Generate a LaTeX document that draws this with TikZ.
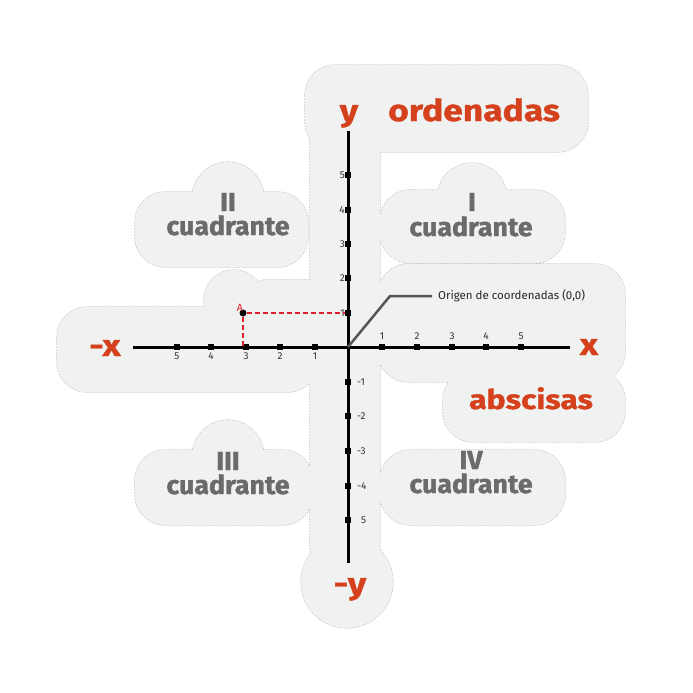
\documentclass[tikz,border=0pt]{standalone}
\usepackage{fontspec}
\setmainfont{Fira Sans}
\newfontfamily\rotulo[FakeStretch=1.18, BoldFeatures={FakeBold=1.2}]{Fira Sans}
\newfontfamily\gruesa[FakeStretch=1.03, BoldFeatures={FakeBold=1.4}]{Fira Sans}
\usetikzlibrary{positioning}

\definecolor{rojizo}{HTML}{D5411C}
\definecolor{grisletra}{HTML}{6B6B6B}
\definecolor{fondo}{HTML}{F0F1F1}
\definecolor{borde}{HTML}{C4C4C4}
\definecolor{guia}{HTML}{555555}
\definecolor{puntos}{HTML}{E41E26}

\tikzset{
  marca/.style={rectangle, fill=black, inner sep=0pt, minimum size=5.5pt},
  num/.style={inner sep=0pt, text=black!80, font=\fontsize{10}{10}\selectfont},
  eje/.style={line width=3pt},
  rojo/.style={inner sep=0pt, text=rojizo, font=\rotulo\bfseries\fontsize{30}{30}\selectfont},
  cuad/.style={inner sep=0pt, text=grisletra, font=\gruesa\bfseries\fontsize{26}{26}\selectfont},
}

% contorno de las manchas del fondo
\newcommand{\manchas}{
  (310,68) rectangle (380,575)
  (305,65) rectangle (588,152)
  (347,582) circle[radius=46pt]
  (57,307) rectangle (318,392)
  (378,264) rectangle (625,382)
  (443,370) rectangle (625,442)
  (380,450) rectangle (565,525)
  (380,190) rectangle (565,263)
  (472,198) circle[radius=35pt]
  (135,192) rectangle (308,267)
  (228,198) circle[radius=36pt]
  (135,450) rectangle (313,525)
  (228,456) circle[radius=36pt]
  (234,300) circle[radius=30pt]
  [rounded corners=10pt] (255,280) rectangle (318,320)
}

\begin{document}
\begin{tikzpicture}[x=1pt, y=-1pt]
\useasboundingbox (0,0) rectangle (693,693);

\draw [borde, dashed, dash pattern=on 2pt off 1pt, line width=1.2pt, rounded corners=30pt] \manchas;
\fill [fondo, rounded corners=30pt] \manchas;

% ejes
\coordinate (o) at (348,347);
\coordinate (xizq) at (133,347);
\coordinate (xder) at (570,347);
\coordinate (yarr) at (348,131);
\coordinate (yaba) at (348,563);

\draw [eje] (xizq) -- (xder);
\draw [eje] (yarr) -- (yaba);

% marcas en x
\draw (382,347) node (xp1) [marca] {};
\draw (xp1) node [num, above=7pt] {1};
\draw (417,347) node (xp2) [marca] {};
\draw (xp2) node [num, above=7pt] {2};
\draw (452,347) node (xp3) [marca] {};
\draw (xp3) node [num, above=7pt] {3};
\draw (486,347) node (xp4) [marca] {};
\draw (xp4) node [num, above=7pt] {4};
\draw (521,347) node (xp5) [marca] {};
\draw (xp5) node [num, above=7pt] {5};

\draw (315,347) node (xn1) [marca] {};
\draw (xn1) node [num, below=6pt] {1};
\draw (280,347) node (xn2) [marca] {};
\draw (xn2) node [num, below=6pt] {2};
\draw (246,347) node (xn3) [marca] {};
\draw (xn3) node [num, below=6pt] {3};
\draw (211,347) node (xn4) [marca] {};
\draw (xn4) node [num, below=6pt] {4};
\draw (177,347) node (xn5) [marca] {};
\draw (xn5) node [num, below=6pt] {5};

% marcas en y
\draw (348,313) node (yp1) [marca] {};
\draw (yp1) node [num, left=3pt] {1};
\draw (348,278) node (yp2) [marca] {};
\draw (yp2) node [num, left=3pt] {2};
\draw (348,244) node (yp3) [marca] {};
\draw (yp3) node [num, left=3pt] {3};
\draw (348,210) node (yp4) [marca] {};
\draw (yp4) node [num, left=3pt] {4};
\draw (348,175) node (yp5) [marca] {};
\draw (yp5) node [num, left=3pt] {5};

\draw (348,382) node (yn1) [marca] {};
\draw (yn1) node [num, right=9pt] {-1};
\draw (348,416) node (yn2) [marca] {};
\draw (yn2) node [num, right=9pt] {-2};
\draw (348,451) node (yn3) [marca] {};
\draw (yn3) node [num, right=9pt] {-3};
\draw (348,486) node (yn4) [marca] {};
\draw (yn4) node [num, right=9pt] {-4};
\draw (348,520) node (yn5) [marca] {};
\draw (yn5) node [num, right=13pt] {5};

% punto A
\draw (243,313) node (pa) [circle, fill=black, inner sep=0pt, minimum size=7pt] {};
\draw (pa) node [above left=1pt and 0pt, inner sep=0pt, text=puntos, font=\fontsize{10.5}{10.5}\selectfont] {A};
\draw [puntos, line width=1.3pt, dash pattern=on 5pt off 3pt] (pa) -- (yp1);
\draw [puntos, line width=1.3pt, dash pattern=on 5pt off 3pt] (pa) -- (pa |- o);

% origen
\coordinate (codo) at (390,296);
\draw (432,296) node (origen) [anchor=west, inner sep=6pt, font=\fontsize{11.5}{11.5}\selectfont, text=black!85] {Origen de coordenadas (0,0)};
\draw [guia, line width=2.5pt] (o) -- (codo) -- (origen.west);

% rotulos rojos
\draw (349,121) node (ytxt) [rojo, anchor=base] {y};
\draw (388,121) node (orden) [rojo, anchor=base west] {ordenadas};
\draw (105,356) node (mxtxt) [rojo, anchor=base] {-x};
\draw (589,355) node (xtxt) [rojo, anchor=base] {x};
\draw (469,409) node (absc) [rojo, anchor=base west, font=\rotulo\bfseries\fontsize{27}{27}\selectfont] {abscisas};
\draw (350,594) node (mytxt) [rojo, anchor=base] {-y};

% cuadrantes
\draw (472,211) node (nI) [cuad, anchor=base] {I};
\draw (471,236) node (cI) [cuad, anchor=base] {cuadrante};
\draw (228,211) node (nII) [cuad, anchor=base] {II};
\draw (228,235) node (cII) [cuad, anchor=base] {cuadrante};
\draw (228,470) node (nIII) [cuad, anchor=base] {III};
\draw (228,494) node (cIII) [cuad, anchor=base] {cuadrante};
\draw (471,469) node (nIV) [cuad, anchor=base] {IV};
\draw (471,493) node (cIV) [cuad, anchor=base] {cuadrante};

\end{tikzpicture}
\end{document}
